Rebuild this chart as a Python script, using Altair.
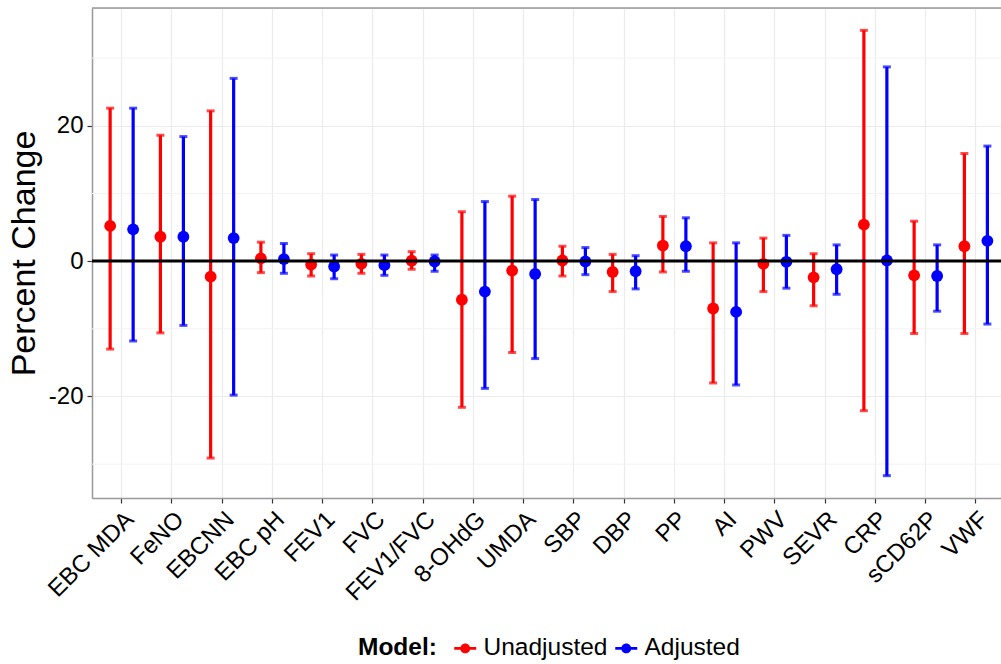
import altair as alt
import pandas as pd

categories = ["EBC MDA", "FeNO", "EBCNN", "EBC pH", "FEV1", "FVC", "FEV1/FVC", "8-OHdG",
              "UMDA", "SBP", "DBP", "PP", "AI", "PWV", "SEVR", "CRP", "sCD62P", "VWF"]
models = ["Unadjusted", "Adjusted"]

unadj_est = [5.2, 3.6, -2.3, 0.4, -0.5, -0.4, 0.05, -5.7, -1.4, 0.1, -1.6, 2.3, -7.0, -0.4, -2.4, 5.4, -2.1, 2.2]
unadj_lo = [-13.0, -10.6, -29.1, -1.7, -2.2, -1.8, -1.2, -21.6, -13.5, -2.2, -4.5, -1.6, -18.0, -4.5, -6.6, -22.1, -10.7, -10.7]
unadj_hi = [22.6, 18.6, 22.2, 2.8, 1.1, 1.0, 1.4, 7.3, 9.6, 2.2, 1.0, 6.6, 2.7, 3.4, 1.1, 34.1, 5.9, 15.9]

adj_est = [4.7, 3.6, 3.4, 0.3, -0.8, -0.6, -0.05, -4.5, -1.9, -0.05, -1.5, 2.2, -7.5, -0.1, -1.2, 0.1, -2.2, 3.0]
adj_lo = [-11.8, -9.5, -19.8, -1.8, -2.6, -2.1, -1.5, -18.8, -14.4, -2.0, -4.1, -1.5, -18.3, -4.0, -4.9, -31.7, -7.4, -9.3]
adj_hi = [22.6, 18.4, 27.0, 2.6, 0.9, 0.9, 0.9, 8.8, 9.1, 2.0, 0.8, 6.4, 2.7, 3.8, 2.4, 28.7, 2.4, 17.0]

y_ticks = [-20, 0, 20]
minor_breaks = [-30, -10, 10, 30]
hline = [0]

rows = []
for i, c in enumerate(categories):
    rows.append({"cat": c, "Model": "Unadjusted", "est": unadj_est[i], "lo": unadj_lo[i], "hi": unadj_hi[i]})
    rows.append({"cat": c, "Model": "Adjusted", "est": adj_est[i], "lo": adj_lo[i], "hi": adj_hi[i]})
df = pd.DataFrame(rows)

FONT = "Liberation Sans"
W, H = 909, 490
ydom = [-35.0, 37.4]

xscale = alt.Scale(domain=categories, paddingInner=0, paddingOuter=0.045, align=1)
yscale = alt.Scale(domain=ydom, nice=False, zero=False)
cscale = alt.Scale(domain=models, range=["#FF0000", "#0000FF"])
offscale = alt.Scale(domain=models, paddingInner=0.185, paddingOuter=0.185)

legend = alt.Legend(
    title="Model:", orient="none", direction="horizontal", titleOrient="left",
    legendX=266, legendY=628,
    titleFontSize=24.5, titleFont=FONT, titleFontWeight="bold", titleColor="black",
    titlePadding=16, labelFontSize=24.5, labelFont=FONT, labelColor="black",
    labelOffset=6, columnPadding=6, labelLimit=300,
    symbolType="M-1,-0.12L1,-0.12L1,0.12L-1,0.12Z M0.45,0A0.45,0.45 0 1,1 -0.45,0A0.45,0.45 0 1,1 0.45,0Z",
    symbolSize=484, symbolStrokeWidth=0, titleBaseline="middle",
)

xaxis = alt.Axis(
    title=None, labelAngle=-45, labelAlign="right", labelBaseline="top",
    labelFontSize=24, labelFont=FONT, labelColor="black", labelPadding=4,
    tickSize=5, tickColor="#333333", tickWidth=1.2, domainColor="#999999", domainWidth=1.5,
    grid=True, gridColor="#EBEBEB", gridWidth=1.2, labelOverlap=False,
)
yaxis = alt.Axis(
    title="Percent Change", values=y_ticks, labelExpr="toString(datum.value)",
    titleFontSize=34, titleFont=FONT,
    titleFontWeight="normal", titleColor="black", titlePadding=7,
    labelFontSize=24, labelFont=FONT, labelColor="black", labelPadding=4,
    tickSize=5, tickColor="#333333", tickWidth=1.2, domainColor="#999999", domainWidth=1.5,
    grid=True, gridColor="#EBEBEB", gridWidth=1.2,
)

base = alt.Chart(df)
color = alt.Color("Model:N", scale=cscale, legend=legend, sort=models)
xenc = alt.X("cat:N", scale=xscale, axis=xaxis, sort=categories)
offenc = alt.XOffset("Model:N", scale=offscale, sort=models)

minor = alt.Chart(pd.DataFrame({"v": minor_breaks})).mark_rule(color="#F3F3F3", strokeWidth=1).encode(
    y=alt.Y("v:Q", scale=yscale, axis=yaxis)
)

bars = base.mark_rule(strokeWidth=3.2).encode(
    x=xenc, xOffset=offenc,
    y=alt.Y("lo:Q", scale=yscale, axis=yaxis),
    y2="hi:Q",
    color=color,
)
caps_lo = base.mark_tick(size=8, thickness=3).encode(
    x=xenc, xOffset=offenc,
    y=alt.Y("lo:Q", scale=yscale, axis=yaxis),
    color=color,
)
caps_hi = base.mark_tick(size=8, thickness=3).encode(
    x=xenc, xOffset=offenc,
    y=alt.Y("hi:Q", scale=yscale, axis=yaxis),
    color=color,
)
points = base.mark_circle(size=140, opacity=1).encode(
    x=xenc, xOffset=offenc,
    y=alt.Y("est:Q", scale=yscale, axis=yaxis),
    color=color,
)
zero = alt.Chart(pd.DataFrame({"v": hline})).mark_rule(color="black", strokeWidth=3).encode(
    y=alt.Y("v:Q", scale=yscale, axis=yaxis)
)
top_border = alt.Chart(pd.DataFrame({"v": hline})).mark_rule(color="#999999", strokeWidth=1.5).encode(
    x=alt.value(0), x2=alt.value(W), y=alt.value(0)
)

chart = alt.layer(minor, points, bars, caps_lo, caps_hi, zero, top_border).properties(
    width=W, height=H,
    autosize=alt.AutoSizeParams(type="none"),
    padding={"left": 92, "top": 8, "right": 0, "bottom": 166},
).configure_view(stroke=None).configure(background="white")

chart.save("out.html", embed_options={"renderer": "svg", "actions": False})
